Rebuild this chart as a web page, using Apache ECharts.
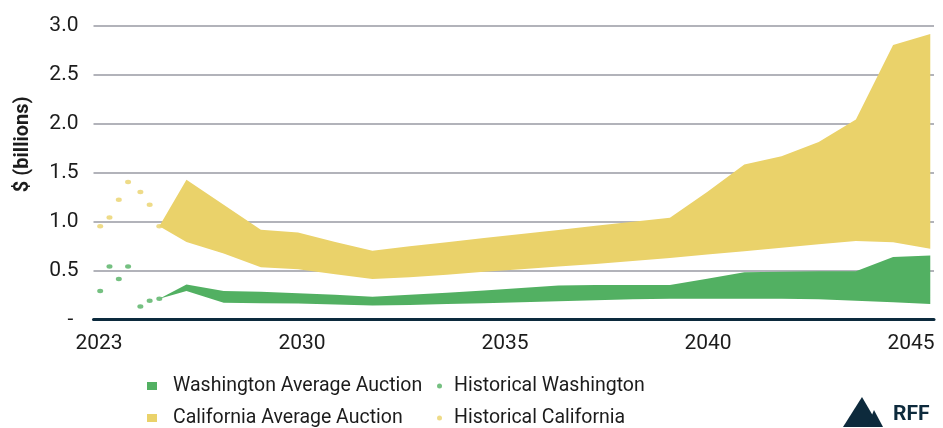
<!DOCTYPE html>
<html>
<head>
<meta charset="utf-8">
<script src="https://cdn.jsdelivr.net/npm/echarts@6/dist/echarts.min.js"></script>
<style>
  html, body { margin: 0; padding: 0; background: #fff; }
  #chart { width: 943px; height: 428px; }
</style>
</head>
<body>
<div id="chart"></div>
<script>
// x-axis labels as printed on the chart (evenly spaced)
const xLabels = ['2023', '2030', '2035', '2040', '2045'];

// historical auction revenue, $ billions
const histYears = [2022.68, 2022.93, 2023.18, 2023.43, 2023.76, 2024.01, 2024.27];
const histWashington = [0.29, 0.54, 0.41, 0.54, 0.13, 0.19, 0.21];
const histCalifornia = [0.95, 1.04, 1.22, 1.40, 1.30, 1.17, 0.95];

// projected average auction revenue range (low / high), $ billions
const projYears = [2024.27, 2025, 2026, 2027, 2028, 2029, 2030, 2031, 2032, 2033, 2034,
  2035, 2036, 2037, 2038, 2039, 2040, 2041, 2042, 2043, 2044, 2045];
const caLow = [0.95, 0.79, 0.672, 0.53, 0.51, 0.46, 0.41, 0.43, 0.455, 0.485, 0.51,
  0.54, 0.565, 0.595, 0.625, 0.66, 0.695, 0.73, 0.765, 0.80, 0.785, 0.72];
const caHigh = [0.95, 1.425, 1.17, 0.915, 0.885, 0.79, 0.70, 0.745, 0.785, 0.83, 0.87,
  0.91, 0.955, 0.995, 1.035, 1.30, 1.58, 1.665, 1.81, 2.04, 2.80, 2.91];
const waLow = [0.21, 0.29, 0.17, 0.165, 0.16, 0.15, 0.14, 0.145, 0.155, 0.165, 0.175,
  0.185, 0.195, 0.205, 0.21, 0.21, 0.21, 0.21, 0.205, 0.19, 0.175, 0.155];
const waHigh = [0.21, 0.355, 0.29, 0.28, 0.265, 0.25, 0.23, 0.25, 0.27, 0.295, 0.32,
  0.345, 0.35, 0.35, 0.35, 0.415, 0.48, 0.485, 0.49, 0.49, 0.635, 0.65];

const yellow = '#EAD26A';
const green = '#52B062';
const textColor = '#1c1c1c';
const font = 'Roboto, "Noto Sans", sans-serif';

// band between low and high drawn as one polygon
function bandSeries(name, color, low, high) {
  return {
    name: name,
    type: 'custom',
    xAxisIndex: 0,
    yAxisIndex: 0,
    itemStyle: { color: color },
    data: projYears.map((x, i) => [x, low[i], high[i]]),
    encode: { x: 0, y: [1, 2] },
    renderItem: function (params, api) {
      if (params.dataIndex !== 0) return null;
      const pts = [];
      for (let i = 0; i < projYears.length; i++) pts.push(api.coord([projYears[i], high[i]]));
      for (let i = projYears.length - 1; i >= 0; i--) pts.push(api.coord([projYears[i], low[i]]));
      return { type: 'polygon', shape: { points: pts }, style: { fill: color } };
    },
    z: 2
  };
}

// one legend entry per box so the two columns line up
function legendItem(name, icon, left, top, size, gap) {
  return {
    left: left, top: top, padding: 0,
    itemWidth: size[0], itemHeight: size[1],
    selectedMode: false,
    data: [{ name: name, icon: icon }],
    textStyle: { fontSize: 19.5, color: textColor, padding: [0, 0, 0, gap] }
  };
}

const chart = echarts.init(document.getElementById('chart'));

const option = {
  animation: false,
  textStyle: { fontFamily: font },
  grid: [
    { left: 93.5, right: 9, top: 25.3, bottom: 108.7 },
    { left: 99, right: 32, top: 25.3, bottom: 108.7 }
  ],
  xAxis: [
    {
      type: 'value', gridIndex: 0, min: 2022.5, max: 2045.1,
      axisLine: { show: true, lineStyle: { color: '#0c2a3d', width: 3 } },
      axisTick: { show: false }, axisLabel: { show: false }, splitLine: { show: false }
    },
    {
      type: 'category', gridIndex: 1, data: xLabels, boundaryGap: false,
      axisLine: { show: false }, axisTick: { show: false }, splitLine: { show: false },
      axisLabel: { fontSize: 21, color: textColor, margin: 14, fontFamily: font }
    }
  ],
  yAxis: [
    {
      type: 'value', gridIndex: 0, min: 0, max: 3, interval: 0.5,
      name: '$ (billions)', nameLocation: 'middle', nameRotate: 90, nameGap: 61,
      nameTextStyle: { fontSize: 20, fontWeight: 'bold', color: textColor, padding: [0, 0, 0, 56] },
      axisLine: { show: false }, axisTick: { show: false },
      axisLabel: {
        fontSize: 21, color: textColor, margin: 15,
        formatter: v => v === 0 ? '- ' : v.toFixed(1)
      },
      splitLine: { lineStyle: { color: '#b2b3ba', width: 2 } }
    },
    { type: 'value', gridIndex: 1, show: false, min: 0, max: 3 }
  ],
  legend: [
    legendItem('Washington Average Auction', 'rect', 147, 376, [10, 8], 11),
    legendItem('California Average Auction', 'rect', 147, 408, [10, 8], 11),
    legendItem('Historical Washington', 'circle', 437, 376, [5, 5], 7),
    legendItem('Historical California', 'circle', 437, 408, [5, 5], 7)
  ],
  series: [
    bandSeries('California Average Auction', yellow, caLow, caHigh),
    bandSeries('Washington Average Auction', green, waLow, waHigh),
    {
      name: 'Historical California', type: 'scatter', xAxisIndex: 0, yAxisIndex: 0,
      symbol: 'circle', symbolSize: [6, 4.5], itemStyle: { color: yellow },
      data: histYears.map((x, i) => [x, histCalifornia[i]]), z: 3
    },
    {
      name: 'Historical Washington', type: 'scatter', xAxisIndex: 0, yAxisIndex: 0,
      symbol: 'circle', symbolSize: [6, 4.5], itemStyle: { color: green },
      data: histYears.map((x, i) => [x, histWashington[i]]), z: 3
    }
  ],
  graphic: [
    {
      type: 'polygon', z: 10,
      shape: { points: [[843, 427], [862, 397], [876, 421], [873, 427]] },
      style: { fill: '#0d2a3c' }
    },
    {
      type: 'polygon', z: 10,
      shape: { points: [[867, 427], [874, 410], [883, 427]] },
      style: { fill: '#0d2a3c' }
    },
    {
      type: 'text', z: 10, left: 893, top: 404,
      style: { text: 'RFF', fill: '#0d2a3c', font: 'bold 21px Roboto, sans-serif' }
    }
  ]
};

chart.setOption(option);
window.addEventListener('resize', () => chart.resize());
</script>
</body>
</html>
